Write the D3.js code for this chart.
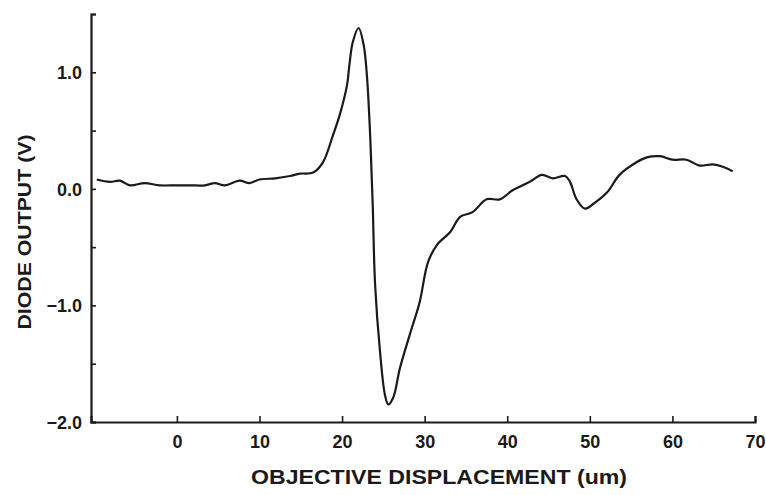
<!DOCTYPE html>
<html>
<head>
<meta charset="utf-8">
<script src="https://cdn.jsdelivr.net/npm/d3@7"></script>
<style>
  body { margin: 0; background: #fff; }
  svg text { font-family: "Liberation Sans", Arial, sans-serif; font-weight: bold; fill: #1a1a1a; }
</style>
</head>
<body>
<svg id="chart" width="766" height="495"></svg>
<script>
// displacement (um) and diode output (V)
var displacement = [-9.7, -8.1, -6.9, -5.7, -3.9, -2.1, -0.2, 1.6, 3.4, 4.6, 5.8, 7.6, 8.8, 10.0, 11.9, 13.7, 14.9, 16.5,
  17.7, 18.9, 19.7, 20.6, 20.9, 21.3, 22.0, 22.6, 23.0, 23.4, 23.7, 24.0, 24.6, 25.2, 25.6, 26.2, 27.0, 28.2, 29.4,
  30.4, 31.5, 33.1, 34.3, 35.8, 37.5, 39.1, 40.7, 42.7, 44.2, 45.5, 47.0, 47.6, 48.4, 49.4, 50.4, 52.1, 53.6, 55.7, 56.9,
  58.5, 60.0, 61.7, 63.3, 64.9, 66.1, 67.3];
var output = [0.08, 0.06, 0.07, 0.03, 0.05, 0.03, 0.03, 0.03, 0.03, 0.05, 0.03, 0.07, 0.05, 0.08, 0.09, 0.11, 0.13, 0.14,
  0.23, 0.46, 0.63, 0.89, 1.07, 1.26, 1.38, 1.24, 0.98, 0.46, -0.11, -0.82, -1.40, -1.77, -1.85, -1.79, -1.54, -1.25, -0.97,
  -0.63, -0.48, -0.37, -0.24, -0.20, -0.09, -0.09, -0.01, 0.06, 0.12, 0.09, 0.11, 0.06, -0.09, -0.17, -0.13, -0.03, 0.12, 0.23, 0.27,
  0.28, 0.25, 0.25, 0.20, 0.21, 0.19, 0.15];

var xTicks = [0, 10, 20, 30, 40, 50, 60, 70];
var yTicks = [1.5, 1.0, 0.5, 0.0, -0.5, -1.0, -1.5, -2.0];
var yLabelled = [1.0, 0.0, -1.0, -2.0];

var svg = d3.select("#chart");
var plotLeft = 91, plotRight = 755, plotTop = 14, plotBottom = 422;

var x = d3.scaleLinear().domain([-10.4, 70]).range([plotLeft, plotRight]);
var y = d3.scaleLinear().domain([-2, 1.5]).range([plotBottom, plotTop]);

// x axis, ticks pointing up into the plot
var xAxis = svg.append("g")
  .attr("transform", "translate(0," + plotBottom + ")")
  .call(d3.axisBottom(x).tickValues(xTicks).tickSize(-6).tickPadding(13).tickFormat(d3.format("d")));

// y axis, ticks pointing right
var yAxis = svg.append("g")
  .attr("transform", "translate(" + plotLeft + ",0)")
  .call(d3.axisLeft(y).tickValues(yTicks).tickSize(-5).tickPadding(9)
    .tickFormat(function(d) { return yLabelled.indexOf(d) >= 0 ? d3.format(".1f")(d) : ""; }));

[xAxis, yAxis].forEach(function(g) {
  g.select(".domain").attr("stroke", "#1a1a1a").attr("stroke-width", 2.2);
  g.selectAll(".tick line").attr("stroke", "#1a1a1a").attr("stroke-width", 1.6);
  g.selectAll(".tick text").style("font-size", "18px").attr("fill", "#1a1a1a");
});
yAxis.selectAll(".tick text").attr("dy", "0.35em");

// the trace
var line = d3.line()
  .x(function(d, i) { return x(displacement[i]); })
  .y(function(d) { return y(d); })
  .curve(d3.curveCatmullRom.alpha(0.5));

svg.append("path")
  .datum(output)
  .attr("d", line)
  .attr("fill", "none")
  .attr("stroke", "#1a1a1a")
  .attr("stroke-width", 2.2)
  .attr("stroke-linejoin", "round");

// axis titles
svg.append("text")
  .attr("x", 439).attr("y", 484)
  .attr("text-anchor", "middle")
  .attr("textLength", 376)
  .attr("lengthAdjust", "spacingAndGlyphs")
  .style("font-size", "20px")
  .text("OBJECTIVE DISPLACEMENT (um)");

svg.append("text")
  .attr("transform", "translate(31,232) rotate(-90)")
  .attr("text-anchor", "middle")
  .attr("textLength", 195)
  .attr("lengthAdjust", "spacingAndGlyphs")
  .style("font-size", "19px")
  .text("DIODE OUTPUT (V)");
</script>
</body>
</html>
